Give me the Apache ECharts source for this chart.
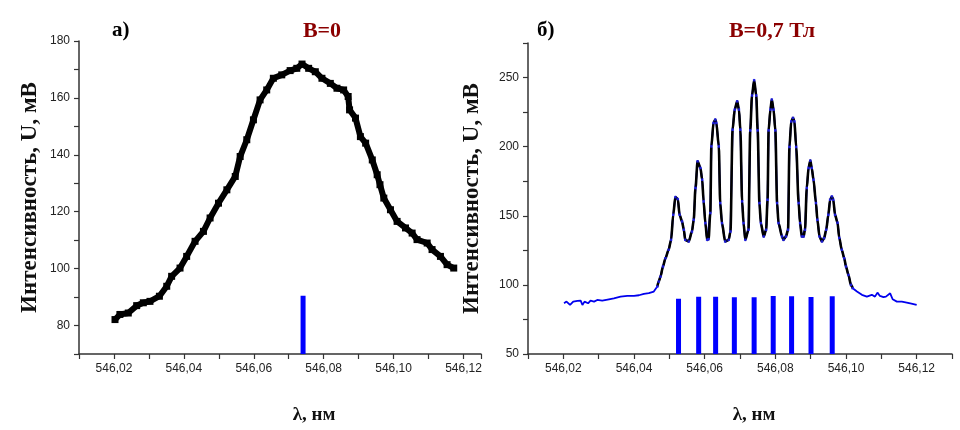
<!DOCTYPE html>
<html>
<head>
<meta charset="utf-8">
<script src="https://cdn.jsdelivr.net/npm/echarts@6/dist/echarts.min.js"></script>
<style>html,body{margin:0;padding:0;background:#fff;}#c{width:960px;height:430px;}</style>
</head>
<body>
<div id="c"></div>
<script>
// ---- Panel а) B=0 : wavelength (nm), intensity (mV)
var aWave = [546.0203,546.0217,546.0241,546.0265,546.0284,546.0303,546.0330,546.0351,546.0365,546.0389,546.0408,546.0432,546.0456,546.0475,546.0499,546.0523,546.0547,546.0561,546.0580,546.0599,546.0618,546.0637,546.0656,546.0680,546.0704,546.0723,546.0738,546.0757,546.0776,546.0795,546.0819,546.0838,546.0857,546.0870,546.0874,546.0891,546.0905,546.0920,546.0939,546.0953,546.0961,546.0972,546.0991,546.1010,546.1034,546.1053,546.1067,546.1096,546.1110,546.1134,546.1153,546.1172];
var aInt  = [82.1,83.9,84.4,87.0,88.0,88.5,90.3,93.8,97.3,100.2,104.3,109.6,113.1,117.8,123.0,127.7,132.4,139.4,145.3,152.3,159.3,162.8,166.9,168.1,169.6,170.4,171.9,170.4,169.2,166.9,165.1,163.4,162.8,160.5,155.8,152.9,146.4,144.1,138.2,133.0,129.5,124.8,120.7,116.6,114.3,112.5,110.2,109.0,106.7,104.3,101.4,100.2];
var aLineWave = [546.0741];
var aLineTop = [90.5];

// ---- Panel б) B=0,7 Тл
var bWingLWave = [546.0202,546.0209,546.0219,546.0228,546.0240,546.0249,546.0254,546.0260,546.0270,546.0277,546.0287,546.0296,546.0310,546.0329,546.0343,546.0362,546.0381,546.0400,546.0414,546.0428,546.0442,546.0456];
var bWingLInt  = [86.7,87.9,85.5,87.9,88.4,88.6,85.5,87.9,86.7,88.6,87.9,89.1,88.6,89.6,90.3,91.5,92.0,92.0,92.5,93.5,94.0,95.2];
var bPeakWave = [546.0466,546.0470,546.0475,546.0482,546.0489,546.0498,546.0505,546.0511,546.0517,546.0524,546.0529,546.0536,546.0541,546.0545,546.0555,546.0564,546.0569,546.0574,546.0580,546.0588,546.0593,546.0597,546.0602,546.0607,546.0611,546.0616,546.0619,546.0625,546.0630,546.0633,546.0640,546.0644,546.0649,546.0658,546.0668,546.0673,546.0679,546.0685,546.0692,546.0697,546.0701,546.0706,546.0710,546.0715,546.0724,546.0729,546.0734,546.0740,546.0746,546.0750,546.0755,546.0759,546.0767,546.0774,546.0778,546.0781,546.0786,546.0790,546.0795,546.0800,546.0805,546.0809,546.0819,546.0823,546.0830,546.0836,546.0840,546.0845,546.0850,546.0854,546.0859,546.0866,546.0870,546.0875,546.0880,546.0884,546.0889,546.0894,546.0899,546.0903,546.0908,546.0915,546.0919,546.0925,546.0932,546.0938,546.0944,546.0950,546.0955,546.0960,546.0964,546.0969,546.0976,546.0981,546.0988,546.0995,546.1000,546.1007,546.1014,546.1019];
var bPeakInt  = [98.8,102.4,106.0,113.3,119.3,125.4,132.6,150.7,163.5,162.1,150.7,145.9,139.9,132.6,131.4,138.6,147.1,170.1,189.4,184.6,176.1,160.4,144.7,132.6,133.1,152.0,200.2,217.2,219.6,217.2,200.2,159.2,144.7,131.4,132.6,138.6,212.3,226.8,232.8,226.8,212.3,160.4,144.7,132.6,139.9,211.8,237.0,248.1,237.0,211.8,159.2,144.7,135.0,139.9,161.6,211.8,226.8,234.1,226.8,211.8,159.2,144.7,135.0,132.6,135.0,139.9,199.8,218.3,220.8,218.3,199.8,159.2,144.7,135.0,135.0,139.9,170.1,184.6,189.9,184.6,176.1,159.2,147.1,135.0,131.4,133.8,139.9,150.7,161.6,164.0,161.6,150.7,145.0,134.0,125.4,119.3,113.3,107.2,100.0,97.6];
var bWingRWave = [546.1031,546.1045,546.1059,546.1073,546.1082,546.1089,546.1096,546.1106,546.1113,546.1125,546.1132,546.1144,546.1158,546.1172,546.1185,546.1200];
var bWingRInt  = [95.2,92.8,91.5,92.8,91.5,94.4,92.0,91.1,91.5,93.9,89.6,87.9,87.9,87.2,86.5,85.5];
var bLineWave = [546.0526,546.0583,546.0631,546.0684,546.0740,546.0794,546.0846,546.0901,546.0961];
var bLineTop  = [89.9,91.5,91.5,91.1,91.1,92.0,91.8,91.3,91.8];

// tick settings
var xTicks = {min:546.01, step:0.01};
var aY = {min:70, max:180, step:10, labelEvery:20};
var bY = {min:50, max:275, step:25, labelEvery:50};

function zip(xs, ys){ return xs.map(function(x,i){ return [x, ys[i]]; }); }
function sticksSeries(xi, yi, xs, tops, base){
  return xs.map(function(x,i){
    return {type:'line', xAxisIndex:xi, yAxisIndex:yi, data:[[x,base],[x,tops[i]]], showSymbol:false, silent:true,
      lineStyle:{color:'#0000ff', width:5, cap:'butt'}, z:1};
  });
}

var axisColor = '#333';
var serif = '"Liberation Serif","Times New Roman",serif';
var sans = '"Liberation Sans",Arial,sans-serif';

function xAxis(gi, maxv, padLeft){
  return {type:'value', gridIndex:gi, min:xTicks.min, max:maxv, interval:xTicks.step,
    name:'λ, нм', nameLocation:'middle', nameGap:52,
    nameTextStyle:{fontFamily:serif, fontWeight:'bold', fontSize:19, color:'#111', padding:[0,0,0,padLeft]},
    axisLine:{onZero:false, lineStyle:{color:axisColor, width:1.5}},
    axisTick:{length:5, lineStyle:{color:axisColor, width:1.2}},
    splitLine:{show:false},
    axisLabel:{fontFamily:sans, fontSize:12, color:'#222', margin:9, showMaxLabel:true,
      formatter:function(v){ var k=Math.round(v*100); return (k%2===0)? (k/100).toFixed(2).replace('.',',') : ''; }}
  };
}
function yAxis(gi, cfg, gap){
  return {type:'value', gridIndex:gi, min:cfg.min, max:cfg.max, interval:cfg.step,
    name:'Интенсивность, U, мВ', nameLocation:'middle', nameGap:gap,
    nameTextStyle:{fontFamily:serif, fontWeight:'bold', fontSize:23, color:'#111'},
    axisLine:{show:true, onZero:false, lineStyle:{color:axisColor, width:1.5}},
    axisTick:{show:true, length:5, lineStyle:{color:axisColor, width:1.2}},
    splitLine:{show:false},
    axisLabel:{fontFamily:sans, fontSize:12, color:'#222', margin:9,
      formatter:function(v){ return (Math.round(v)%cfg.labelEvery===0)? String(Math.round(v)) : ''; }}
  };
}

var series = [];
series = series.concat(sticksSeries(0,0,aLineWave,aLineTop,aY.min));
series.push({type:'line', xAxisIndex:0, yAxisIndex:0, data:zip(aWave,aInt), symbol:'rect', symbolSize:7, showAllSymbol:true,
  itemStyle:{color:'#000'}, lineStyle:{color:'#000', width:6}, z:3});
series = series.concat(sticksSeries(1,1,bLineWave,bLineTop,bY.min));
series.push({type:'line', xAxisIndex:1, yAxisIndex:1,
  data:zip(bWingLWave.concat(bPeakWave).concat(bWingRWave), bWingLInt.concat(bPeakInt).concat(bWingRInt)),
  showSymbol:false, lineStyle:{color:'#0000ee', width:1.8}, z:2});
series.push({type:'line', xAxisIndex:1, yAxisIndex:1, data:zip(bPeakWave,bPeakInt), showSymbol:false, smooth:0.3, smoothMonotone:'x',
  lineStyle:{color:'#000', width:2.6}, z:3});
series.push({type:'scatter', xAxisIndex:1, yAxisIndex:1, data:zip(bPeakWave,bPeakInt), symbol:'rect', symbolSize:2.5,
  itemStyle:{color:'#1f1fff'}, z:4});

var chart = echarts.init(document.getElementById('c'), null, {renderer:'canvas'});
chart.setOption({
  animation:false,
  backgroundColor:'#fff',
  grid:[{left:79, top:41, width:402, height:313},{left:528, top:43, width:424, height:311}],
  xAxis:[xAxis(0, 546.125, 68), xAxis(1, 546.13, 28)],
  yAxis:[yAxis(0, aY, 37), yAxis(1, bY, 44)],
  title:[
    {text:'а)', left:107, top:15, textStyle:{fontFamily:serif, fontWeight:'bold', fontSize:21, color:'#000'}},
    {text:'B=0', left:317, top:15, textAlign:'center', textStyle:{fontFamily:serif, fontWeight:'bold', fontSize:22, color:'#8b0000'}},
    {text:'б)', left:532, top:15, textStyle:{fontFamily:serif, fontWeight:'bold', fontSize:21, color:'#000'}},
    {text:'B=0,7 Тл', left:767, top:15, textAlign:'center', textStyle:{fontFamily:serif, fontWeight:'bold', fontSize:22, color:'#8b0000'}}
  ],
  series:series
});
</script>
</body>
</html>
